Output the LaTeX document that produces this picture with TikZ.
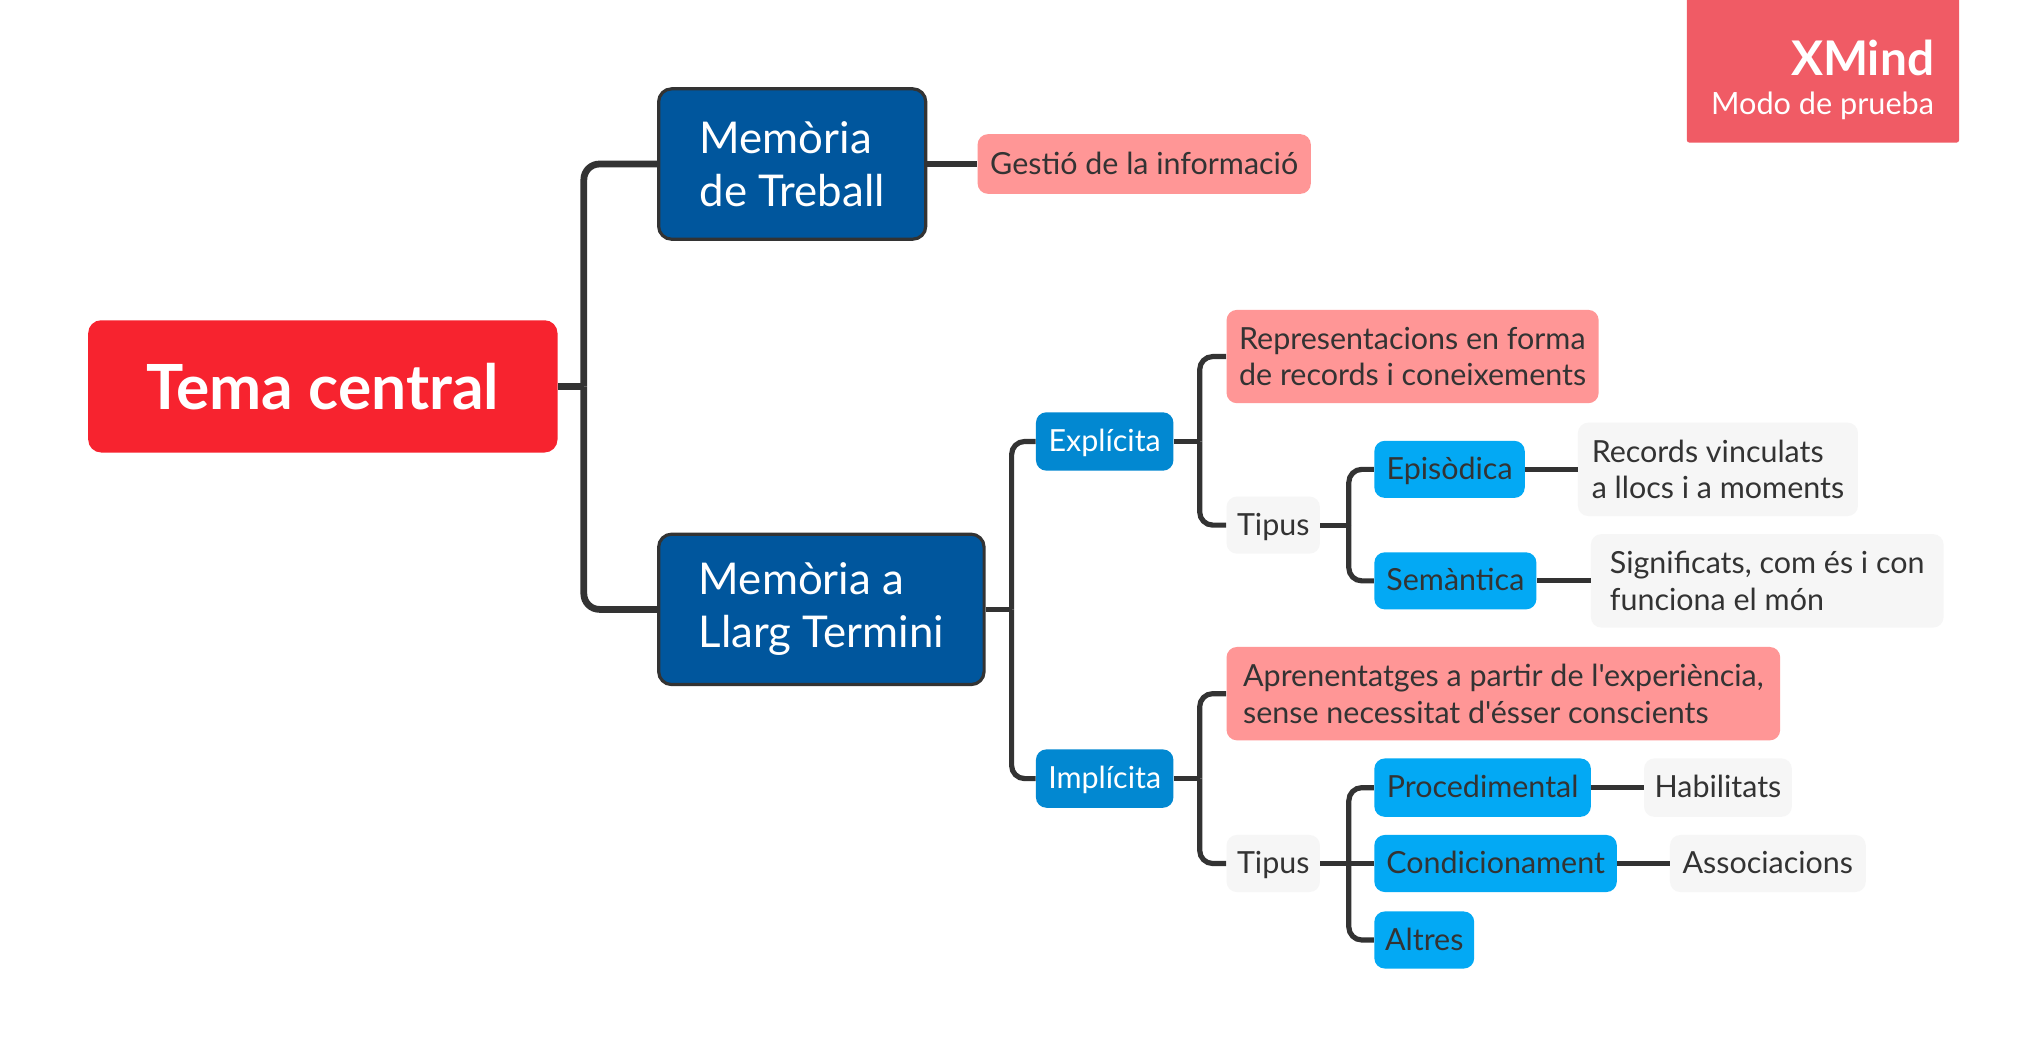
\documentclass[tikz,border=0pt]{standalone}
\usepackage{fontspec}
\setmainfont{Lato}[Ligatures=TeXOff]
\usetikzlibrary{calc}
\definecolor{linec}{HTML}{333333}
\definecolor{redc}{HTML}{F7232F}
\definecolor{dblue}{HTML}{00569D}
\definecolor{mblue}{HTML}{0288D1}
\definecolor{lblue}{HTML}{03A9F4}
\definecolor{pinkc}{HTML}{FF9696}
\definecolor{greyc}{HTML}{F6F6F6}
\definecolor{txt}{HTML}{333333}
\definecolor{wmark}{HTML}{F05B65}
\newlength\pxu \setlength\pxu{0.6515pt}
\tikzset{
 sz/.style 2 args={minimum width=#1\pxu, minimum height=#2\pxu},
 box/.style={rectangle, rounded corners=8\pxu, inner sep=0pt, align=center, font=\fontsize{15.3}{18.4}\selectfont},
 oneline/.style={text height=13.2pt, text depth=3.1pt},
 central/.style={box, fill=redc, text=white, rounded corners=10\pxu, font=\bfseries\fontsize{31.3}{38}\selectfont},
 maintopic/.style={box, fill=dblue, draw=linec, line width=1.6pt, text=white, rounded corners=10\pxu, align=left, font=\fontsize{22}{26.6}\selectfont},
 midtopic/.style={box, oneline, fill=mblue, text=white},
 subtopic/.style={box, oneline, fill=lblue, text=txt},
 pinkbox/.style={box, fill=pinkc, text=txt, align=left},
 greybox/.style={box, fill=greyc, text=txt, align=left},
 conna/.style={draw=linec, line width=3.4pt, rounded corners=12\pxu},
 connb/.style={draw=linec, line width=2.6pt, rounded corners=10\pxu},
 wmbox/.style={rectangle, fill=wmark, rounded corners=2\pxu, inner sep=0pt},
}
\begin{document}
\begin{tikzpicture}[x=0.6515pt, y=-0.6515pt]
\useasboundingbox[fill=white] (0,0) rectangle (1568,815.2);
% watermark
\node[wmbox, sz={210}{114}] (wm) at (1406,53) {};
\node[anchor=base east, text=white, inner sep=0pt, font=\bfseries\fontsize{24}{28}\selectfont] (wmt) at (1492,58.5) {XMind};
\node[anchor=base east, text=white, inner sep=0pt, font=\fontsize{15.4}{18}\selectfont] (wms) at (1492,88) {Modo de prueba};
% nodes
\node[central, sz={362}{102}] (tema) at (249,298) {Tema central};
\node[maintopic, sz={206}{116}] (mdt) at (611,126.5) {Memòria\\de Treball};
\node[pinkbox, oneline, sz={257}{46}] (gestio) at (882.5,126.5) {Gestió de la informació};
\node[maintopic, sz={251}{116}] (mlt) at (633.5,470) {Memòria a\\Llarg Termini};
\node[midtopic, sz={106}{45}] (expl) at (852,340.5) {Explícita};
\node[pinkbox, sz={287}{72}] (repr) at (1089.5,275) {Representacions en forma\\de records i coneixements};
\node[greybox, oneline, sz={72}{44}] (tip1) at (982,405) {Tipus};
\node[subtopic, sz={116}{44}] (epis) at (1118,362) {Episòdica};
\node[greybox, sz={216}{72}] (rec) at (1325,362) {Records vinculats\\a llocs i a moments};
\node[subtopic, sz={125}{44}] (sem) at (1122.5,448) {Semàntica};
\node[greybox, sz={272}{72}] (sig) at (1363,448) {Significats, com és i con\\funciona el món};
\node[midtopic, sz={106}{45}] (impl) at (852,600.5) {Implícita};
\node[pinkbox, sz={427}{72}] (apr) at (1159.5,535) {Aprenentatges a partir de l'experiència,\\sense necessitat d'ésser conscients};
\node[greybox, oneline, sz={72}{44}] (tip2) at (982,666) {Tipus};
\node[subtopic, sz={167}{45}] (proc) at (1143.5,607.5) {Procedimental};
\node[greybox, oneline, sz={114}{45}] (hab) at (1325,607.5) {Habilitats};
\node[subtopic, sz={187}{44}] (cond) at (1153.5,666) {Condicionament};
\node[greybox, oneline, sz={151}{44}] (assoc) at (1363.5,666) {Associacions};
\node[subtopic, sz={77}{44}] (altres) at (1098.5,725) {Altres};
% connectors
\draw[conna] (tema.east) -- ++(20,0) coordinate (j0);
\draw[conna] (j0) |- (mdt.west);
\draw[conna] (j0) |- (mlt.west);
\draw[connb] (mdt.east) -- (gestio.west);
\draw[connb] (mlt.east) -- ++(20,0) coordinate (j1);
\draw[connb] (j1) |- (expl.west);
\draw[connb] (j1) |- (impl.west);
\draw[connb] (expl.east) -- ++(20,0) coordinate (j2);
\draw[connb] (j2) |- (repr.west);
\draw[connb] (j2) |- (tip1.west);
\draw[connb] (tip1.east) -- ++(22,0) coordinate (j3);
\draw[connb] (j3) |- (epis.west);
\draw[connb] (j3) |- (sem.west);
\draw[connb] (epis.east) -- (rec.west);
\draw[connb] (sem.east) -- (sig.west);
\draw[connb] (impl.east) -- ++(20,0) coordinate (j4);
\draw[connb] (j4) |- (apr.west);
\draw[connb] (j4) |- (tip2.west);
\draw[connb] (tip2.east) -- ++(22,0) coordinate (j5);
\draw[connb] (j5) |- (proc.west);
\draw[connb] (j5) -- (cond.west);
\draw[connb] (j5) |- (altres.west);
\draw[connb] (proc.east) -- (hab.west);
\draw[connb] (cond.east) -- (assoc.west);
\end{tikzpicture}
\end{document}
